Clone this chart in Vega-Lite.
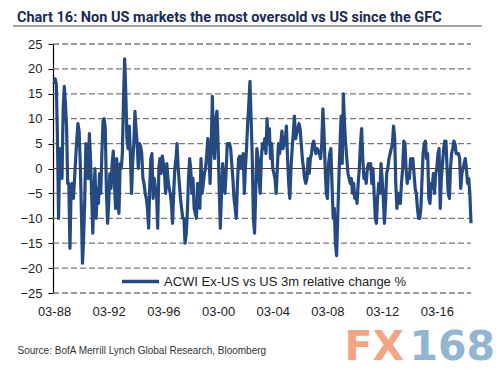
{
"$schema":"https://vega.github.io/schema/vega-lite/v6.json",
"width":418,"height":249,
"autosize":"none",
"padding":{"left":53,"top":44,"right":29,"bottom":76},
"background":"white",
"config":{"view":{"stroke":null},"font":"Liberation Sans","axisY":{"labelOverlap":false,"grid":false}},
"title":{"text":"Chart 16: Non US markets the most oversold vs US since the GFC","anchor":"start","frame":"group","dx":-36,"offset":0,"font":"Roboto","fontSize":14.5,"fontWeight":"bold","color":"#1b2a55"},
"data":{"values":[
{"d":"1988-03-01","v":17},{"d":"1988-04-01","v":18},{"d":"1988-05-01","v":17},{"d":"1988-06-01","v":6},{"d":"1988-07-01","v":-10},{"d":"1988-08-01","v":4},{"d":"1988-09-01","v":2},{"d":"1988-10-01","v":-2},{"d":"1988-11-01","v":12},{"d":"1988-12-01","v":16.5},
{"d":"1989-01-01","v":13},{"d":"1989-02-01","v":8},{"d":"1989-03-01","v":-3},{"d":"1989-04-01","v":-3},{"d":"1989-05-01","v":-16},{"d":"1989-06-01","v":-4},{"d":"1989-07-01","v":-3},{"d":"1989-08-01","v":-6},{"d":"1989-09-01","v":-2},{"d":"1989-10-01","v":2},{"d":"1989-11-01","v":6},{"d":"1989-12-01","v":9},
{"d":"1990-01-01","v":7.5},{"d":"1990-02-01","v":1},{"d":"1990-03-01","v":-8},{"d":"1990-04-01","v":-19},{"d":"1990-05-01","v":-14},{"d":"1990-06-01","v":-6},{"d":"1990-07-01","v":5},{"d":"1990-08-01","v":4},{"d":"1990-09-01","v":-2},{"d":"1990-10-01","v":7},{"d":"1990-11-01","v":2},{"d":"1990-12-01","v":-5},
{"d":"1991-01-01","v":-13},{"d":"1991-02-01","v":-5},{"d":"1991-03-01","v":0},{"d":"1991-04-01","v":-10},{"d":"1991-05-01","v":-4},{"d":"1991-06-01","v":-7},{"d":"1991-07-01","v":-1},{"d":"1991-08-01","v":-5},{"d":"1991-09-01","v":3},{"d":"1991-10-01","v":9.5},{"d":"1991-11-01","v":10},{"d":"1991-12-01","v":8},
{"d":"1992-01-01","v":-5},{"d":"1992-02-01","v":-11},{"d":"1992-03-01","v":-7},{"d":"1992-04-01","v":-1},{"d":"1992-05-01","v":-4},{"d":"1992-06-01","v":1},{"d":"1992-07-01","v":3.5},{"d":"1992-08-01","v":-3},{"d":"1992-09-01","v":-8},{"d":"1992-10-01","v":2},{"d":"1992-11-01","v":-7},{"d":"1992-12-01","v":-9},
{"d":"1993-01-01","v":1},{"d":"1993-02-01","v":0},{"d":"1993-03-01","v":3},{"d":"1993-04-01","v":14},{"d":"1993-05-01","v":22},{"d":"1993-06-01","v":15},{"d":"1993-07-01","v":6},{"d":"1993-08-01","v":4},{"d":"1993-09-01","v":8.5},{"d":"1993-10-01","v":3},{"d":"1993-11-01","v":-5},{"d":"1993-12-01","v":1},
{"d":"1994-01-01","v":5},{"d":"1994-02-01","v":11.5},{"d":"1994-03-01","v":8},{"d":"1994-04-01","v":5},{"d":"1994-05-01","v":0},{"d":"1994-06-01","v":5},{"d":"1994-07-01","v":4.5},{"d":"1994-08-01","v":3},{"d":"1994-09-01","v":-2},{"d":"1994-10-01","v":-3},{"d":"1994-11-01","v":-5},{"d":"1994-12-01","v":-6},
{"d":"1995-01-01","v":-8},{"d":"1995-02-01","v":-12},{"d":"1995-03-01","v":-4},{"d":"1995-04-01","v":2},{"d":"1995-05-01","v":3},{"d":"1995-06-01","v":-6},{"d":"1995-07-01","v":-2},{"d":"1995-08-01","v":-4},{"d":"1995-09-01","v":-5},{"d":"1995-10-01","v":-12},{"d":"1995-11-01","v":0},{"d":"1995-12-01","v":2},
{"d":"1996-01-01","v":-1},{"d":"1996-02-01","v":2.5},{"d":"1996-03-01","v":1},{"d":"1996-04-01","v":-1},{"d":"1996-05-01","v":-5},{"d":"1996-06-01","v":1},{"d":"1996-07-01","v":-2},{"d":"1996-08-01","v":-4},{"d":"1996-09-01","v":-5},{"d":"1996-10-01","v":-7},{"d":"1996-11-01","v":-11},{"d":"1996-12-01","v":-5},
{"d":"1997-01-01","v":0},{"d":"1997-02-01","v":2},{"d":"1997-03-01","v":5},{"d":"1997-04-01","v":0},{"d":"1997-05-01","v":-3},{"d":"1997-06-01","v":-6},{"d":"1997-07-01","v":-8},{"d":"1997-08-01","v":-10},{"d":"1997-09-01","v":-10},{"d":"1997-10-01","v":-15},{"d":"1997-11-01","v":-13},{"d":"1997-12-01","v":-9},
{"d":"1998-01-01","v":-2},{"d":"1998-02-01","v":2},{"d":"1998-03-01","v":0},{"d":"1998-04-01","v":-5},{"d":"1998-05-01","v":-2},{"d":"1998-06-01","v":-8},{"d":"1998-07-01","v":-9},{"d":"1998-08-01","v":-10},{"d":"1998-09-01","v":-3},{"d":"1998-10-01","v":-6},{"d":"1998-11-01","v":-8},{"d":"1998-12-01","v":2},
{"d":"1999-01-01","v":-5},{"d":"1999-02-01","v":-3},{"d":"1999-03-01","v":-1},{"d":"1999-04-01","v":0},{"d":"1999-05-01","v":2.5},{"d":"1999-06-01","v":6},{"d":"1999-07-01","v":3},{"d":"1999-08-01","v":-3},{"d":"1999-09-01","v":5},{"d":"1999-10-01","v":14.5},{"d":"1999-11-01","v":4},{"d":"1999-12-01","v":2},
{"d":"2000-01-01","v":10},{"d":"2000-02-01","v":11.5},{"d":"2000-03-01","v":5},{"d":"2000-04-01","v":-4},{"d":"2000-05-01","v":-12},{"d":"2000-06-01","v":-5},{"d":"2000-07-01","v":1},{"d":"2000-08-01","v":-2},{"d":"2000-09-01","v":-5},{"d":"2000-10-01","v":-1},{"d":"2000-11-01","v":5},{"d":"2000-12-01","v":5},
{"d":"2001-01-01","v":5},{"d":"2001-02-01","v":4},{"d":"2001-03-01","v":1},{"d":"2001-04-01","v":-2},{"d":"2001-05-01","v":-6},{"d":"2001-06-01","v":-8},{"d":"2001-07-01","v":-10},{"d":"2001-08-01","v":-3},{"d":"2001-09-01","v":2},{"d":"2001-10-01","v":2.5},{"d":"2001-11-01","v":0},{"d":"2001-12-01","v":1},
{"d":"2002-01-01","v":3},{"d":"2002-02-01","v":-5},{"d":"2002-03-01","v":0},{"d":"2002-04-01","v":4},{"d":"2002-05-01","v":9},{"d":"2002-06-01","v":13},{"d":"2002-07-01","v":17.5},{"d":"2002-08-01","v":10},{"d":"2002-09-01","v":2},{"d":"2002-10-01","v":-10},{"d":"2002-11-01","v":-13},{"d":"2002-12-01","v":-5},
{"d":"2003-01-01","v":4},{"d":"2003-02-01","v":2},{"d":"2003-03-01","v":-2},{"d":"2003-04-01","v":-5},{"d":"2003-05-01","v":2},{"d":"2003-06-01","v":5},{"d":"2003-07-01","v":4},{"d":"2003-08-01","v":6},{"d":"2003-09-01","v":3},{"d":"2003-10-01","v":10},{"d":"2003-11-01","v":5},{"d":"2003-12-01","v":8},
{"d":"2004-01-01","v":2},{"d":"2004-02-01","v":5},{"d":"2004-03-01","v":0},{"d":"2004-04-01","v":-1},{"d":"2004-05-01","v":-2},{"d":"2004-06-01","v":-5},{"d":"2004-07-01","v":0},{"d":"2004-08-01","v":5},{"d":"2004-09-01","v":3},{"d":"2004-10-01","v":5},{"d":"2004-11-01","v":7.5},{"d":"2004-12-01","v":4},
{"d":"2005-01-01","v":5},{"d":"2005-02-01","v":6},{"d":"2005-03-01","v":8.5},{"d":"2005-04-01","v":2},{"d":"2005-05-01","v":-3},{"d":"2005-06-01","v":-6},{"d":"2005-07-01","v":0},{"d":"2005-08-01","v":4},{"d":"2005-09-01","v":7},{"d":"2005-10-01","v":10.5},{"d":"2005-11-01","v":6},{"d":"2005-12-01","v":7},
{"d":"2006-01-01","v":8},{"d":"2006-02-01","v":9},{"d":"2006-03-01","v":8},{"d":"2006-04-01","v":5},{"d":"2006-05-01","v":2},{"d":"2006-06-01","v":0},{"d":"2006-07-01","v":-2},{"d":"2006-08-01","v":-3},{"d":"2006-09-01","v":-2},{"d":"2006-10-01","v":2},{"d":"2006-11-01","v":-1},{"d":"2006-12-01","v":2},
{"d":"2007-01-01","v":3},{"d":"2007-02-01","v":5},{"d":"2007-03-01","v":5.5},{"d":"2007-04-01","v":4},{"d":"2007-05-01","v":3},{"d":"2007-06-01","v":4},{"d":"2007-07-01","v":3.5},{"d":"2007-08-01","v":3},{"d":"2007-09-01","v":2},{"d":"2007-10-01","v":5},{"d":"2007-11-01","v":12},{"d":"2007-12-01","v":7},
{"d":"2008-01-01","v":0},{"d":"2008-02-01","v":-5},{"d":"2008-03-01","v":-6},{"d":"2008-04-01","v":1},{"d":"2008-05-01","v":3},{"d":"2008-06-01","v":4},{"d":"2008-07-01","v":-3},{"d":"2008-08-01","v":-10},{"d":"2008-09-01","v":-8},{"d":"2008-10-01","v":-15},{"d":"2008-11-01","v":-17.5},{"d":"2008-12-01","v":-10},
{"d":"2009-01-01","v":-2},{"d":"2009-02-01","v":5},{"d":"2009-03-01","v":10.5},{"d":"2009-04-01","v":1},{"d":"2009-05-01","v":15},{"d":"2009-06-01","v":9},{"d":"2009-07-01","v":5},{"d":"2009-08-01","v":2},{"d":"2009-09-01","v":-1},{"d":"2009-10-01","v":-2},{"d":"2009-11-01","v":-3},{"d":"2009-12-01","v":-2},
{"d":"2010-01-01","v":-5},{"d":"2010-02-01","v":-3},{"d":"2010-03-01","v":-6},{"d":"2010-04-01","v":-5},{"d":"2010-05-01","v":-7},{"d":"2010-06-01","v":-3},{"d":"2010-07-01","v":0},{"d":"2010-08-01","v":5},{"d":"2010-09-01","v":8},{"d":"2010-10-01","v":2},{"d":"2010-11-01","v":-2},{"d":"2010-12-01","v":-1},
{"d":"2011-01-01","v":-3},{"d":"2011-02-01","v":0},{"d":"2011-03-01","v":1},{"d":"2011-04-01","v":0},{"d":"2011-05-01","v":1},{"d":"2011-06-01","v":-3},{"d":"2011-07-01","v":0},{"d":"2011-08-01","v":-5},{"d":"2011-09-01","v":-10},{"d":"2011-10-01","v":-11},{"d":"2011-11-01","v":-6},{"d":"2011-12-01","v":-3},
{"d":"2012-01-01","v":-5},{"d":"2012-02-01","v":1},{"d":"2012-03-01","v":-2},{"d":"2012-04-01","v":-6},{"d":"2012-05-01","v":-11},{"d":"2012-06-01","v":-7},{"d":"2012-07-01","v":-1},{"d":"2012-08-01","v":0},{"d":"2012-09-01","v":2},{"d":"2012-10-01","v":3},{"d":"2012-11-01","v":4},{"d":"2012-12-01","v":5},
{"d":"2013-01-01","v":8.5},{"d":"2013-02-01","v":6},{"d":"2013-03-01","v":-3},{"d":"2013-04-01","v":-8},{"d":"2013-05-01","v":-5},{"d":"2013-06-01","v":-6},{"d":"2013-07-01","v":-7},{"d":"2013-08-01","v":-3},{"d":"2013-09-01","v":0},{"d":"2013-10-01","v":5.5},{"d":"2013-11-01","v":5},{"d":"2013-12-01","v":0},
{"d":"2014-01-01","v":-3},{"d":"2014-02-01","v":-1},{"d":"2014-03-01","v":-2},{"d":"2014-04-01","v":2},{"d":"2014-05-01","v":0},{"d":"2014-06-01","v":2},{"d":"2014-07-01","v":-1},{"d":"2014-08-01","v":-4},{"d":"2014-09-01","v":-5},{"d":"2014-10-01","v":-8},{"d":"2014-11-01","v":-10},{"d":"2014-12-01","v":-10},
{"d":"2015-01-01","v":-8},{"d":"2015-02-01","v":-2},{"d":"2015-03-01","v":3},{"d":"2015-04-01","v":5},{"d":"2015-05-01","v":5.5},{"d":"2015-06-01","v":2},{"d":"2015-07-01","v":3},{"d":"2015-08-01","v":-6},{"d":"2015-09-01","v":-7},{"d":"2015-10-01","v":-3},{"d":"2015-11-01","v":-4},{"d":"2015-12-01","v":-1},
{"d":"2016-01-01","v":-5},{"d":"2016-02-01","v":-1},{"d":"2016-03-01","v":0},{"d":"2016-04-01","v":3},{"d":"2016-05-01","v":4},{"d":"2016-06-01","v":-8},{"d":"2016-07-01","v":-2},{"d":"2016-08-01","v":1},{"d":"2016-09-01","v":4},{"d":"2016-10-01","v":5.5},{"d":"2016-11-01","v":5.5},{"d":"2016-12-01","v":0},
{"d":"2017-01-01","v":-5},{"d":"2017-02-01","v":-6},{"d":"2017-03-01","v":0},{"d":"2017-04-01","v":3},{"d":"2017-05-01","v":4},{"d":"2017-06-01","v":5.5},{"d":"2017-07-01","v":5},{"d":"2017-08-01","v":3},{"d":"2017-09-01","v":3},{"d":"2017-10-01","v":3},{"d":"2017-11-01","v":2},{"d":"2017-12-01","v":-4},
{"d":"2018-01-01","v":-1},{"d":"2018-02-01","v":0},{"d":"2018-03-01","v":1},{"d":"2018-04-01","v":2},{"d":"2018-05-01","v":0},{"d":"2018-06-01","v":-3},{"d":"2018-07-01","v":-2},{"d":"2018-08-01","v":-5},{"d":"2018-09-01","v":-11}
]},
"layer":[
{"data":{"values":[{"g":-25},{"g":-20},{"g":-15},{"g":-10},{"g":-5},{"g":5},{"g":10},{"g":15},{"g":20},{"g":25}]},
 "mark":{"type":"rule","color":"#7a7a7a","strokeWidth":1.3,"strokeDash":[6,3],"opacity":1},
 "encoding":{"x":{"datum":{"year":1988,"month":2,"date":3,"utc":true},"type":"temporal"},"x2":{"datum":{"year":2018,"month":9,"date":1,"utc":true}},"y":{"field":"g","type":"quantitative","axis":{"values":[-25,-20,-15,-10,-5,0,5,10,15,20,25],"labelOverlap":false,"grid":false,"domainColor":"#000000","domainWidth":1.2,"tickColor":"#000000","tickSize":5,"labelFontSize":13,"labelColor":"#222222","labelPadding":6,"title":null}}}},
{"mark":{"type":"line","strokeWidth":3.2,"strokeJoin":"round","interpolate":"linear"},
 "encoding":{
  "x":{"field":"d","type":"temporal","scale":{"type":"utc","domain":[{"year":1988,"month":2,"date":3,"utc":true},{"year":2018,"month":9,"date":1,"utc":true}]},
   "axis":{"values":[{"year":1988,"month":3,"date":1,"utc":true},{"year":1992,"month":3,"date":1,"utc":true},{"year":1996,"month":3,"date":1,"utc":true},{"year":2000,"month":3,"date":1,"utc":true},{"year":2004,"month":3,"date":1,"utc":true},{"year":2008,"month":3,"date":1,"utc":true},{"year":2012,"month":3,"date":1,"utc":true},{"year":2016,"month":3,"date":1,"utc":true}],
    "labelExpr":"utcFormat(datum.value, '%m-%y')","labelOverlap":false,"domain":false,"ticks":false,"grid":false,"labelFontSize":13,"labelColor":"#222222","labelPadding":12,"labelFlush":false,
    "title":"Source: BofA Merrill Lynch Global Research, Bloomberg","titleFontSize":10,"titleFontWeight":"normal","titleColor":"#333333","titleAnchor":"start","titleAlign":"left","titleBaseline":"top","titleX":-36,"titleY":52}},
  "y":{"field":"v","type":"quantitative","scale":{"domain":[-25,25],"nice":false,"zero":false},
   "axis":{"values":[-25,-20,-15,-10,-5,0,5,10,15,20,25],"labelOverlap":false,"grid":false,"domainColor":"#000000","domainWidth":1.2,"tickColor":"#000000","tickSize":5,"labelFontSize":13,"labelColor":"#222222","labelPadding":6,"title":null}},
  "color":{"datum":"ACWI Ex-US vs US 3m relative change %","scale":{"range":["#254a82"]},
   "legend":{"orient":"none","legendX":67,"legendY":217,"title":null,"symbolType":"stroke","symbolSize":1369,"symbolStrokeWidth":3.5,"labelFontSize":13,"labelColor":"#222222","labelLimit":400,"padding":0,"labelOffset":3}}
 }},
{"data":{"values":[{}]},"mark":{"type":"rule","color":"#444444","strokeWidth":1.2},"encoding":{"y":{"datum":0,"type":"quantitative","axis":{"values":[-25,-20,-15,-10,-5,0,5,10,15,20,25],"labelOverlap":false,"grid":false,"domainColor":"#000000","domainWidth":1.2,"tickColor":"#000000","tickSize":5,"labelFontSize":13,"labelColor":"#222222","labelPadding":6,"title":null}}}},
{"data":{"values":[{}]},"mark":{"type":"rule","clip":false,"color":"#808080","strokeWidth":1.5},
 "encoding":{"x":{"datum":{"year":1985,"month":3,"date":1,"utc":true},"type":"temporal"},"x2":{"datum":{"year":2019,"month":6,"date":15,"utc":true}},"y":{"datum":28.6,"type":"quantitative","axis":{"values":[-25,-20,-15,-10,-5,0,5,10,15,20,25],"labelOverlap":false,"grid":false,"domainColor":"#000000","domainWidth":1.2,"tickColor":"#000000","tickSize":5,"labelFontSize":13,"labelColor":"#222222","labelPadding":6,"title":null}}}},
{"data":{"values":[{}]},"mark":{"type":"text","clip":false,"text":"FX","align":"left","baseline":"middle","font":"DejaVu Sans","fontWeight":"bold","fontSize":41,"color":"#f2a584"},
 "encoding":{"x":{"datum":{"year":2009,"month":6,"date":1,"utc":true},"type":"temporal"},"y":{"datum":-36,"type":"quantitative","axis":{"values":[-25,-20,-15,-10,-5,0,5,10,15,20,25],"labelOverlap":false,"grid":false,"domainColor":"#000000","domainWidth":1.2,"tickColor":"#000000","tickSize":5,"labelFontSize":13,"labelColor":"#222222","labelPadding":6,"title":null}}}},
{"data":{"values":[{}]},"mark":{"type":"text","clip":false,"text":"168","align":"left","baseline":"middle","font":"DejaVu Sans","fontWeight":"bold","fontSize":41,"color":"#93b5cf"},
 "encoding":{"x":{"datum":{"year":2014,"month":3,"date":1,"utc":true},"type":"temporal"},"y":{"datum":-36,"type":"quantitative","axis":{"values":[-25,-20,-15,-10,-5,0,5,10,15,20,25],"labelOverlap":false,"grid":false,"domainColor":"#000000","domainWidth":1.2,"tickColor":"#000000","tickSize":5,"labelFontSize":13,"labelColor":"#222222","labelPadding":6,"title":null}}}}
]
}
